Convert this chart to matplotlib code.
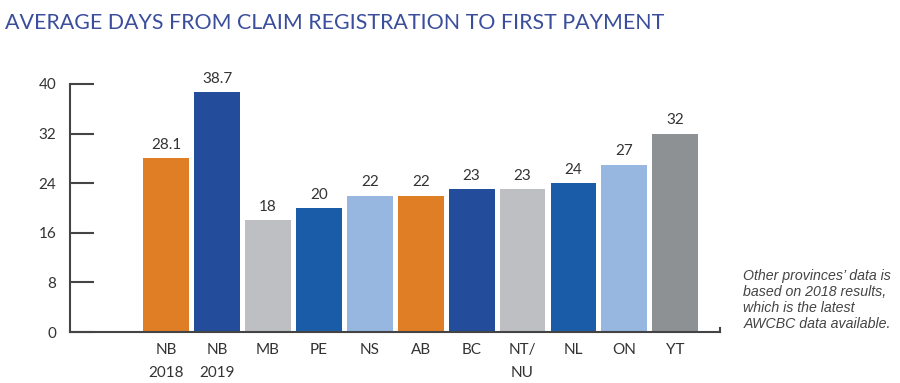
import matplotlib.pyplot as plt

# Average days from claim registration to first payment
labels = ["NB\n2018", "NB\n2019", "MB", "PE", "NS", "AB", "BC", "NT/\nNU", "NL", "ON", "YT"]
values = [28.1, 38.7, 18, 20, 22, 22, 23, 23, 24, 27, 32]
value_text = ["28.1", "38.7", "18", "20", "22", "22", "23", "23", "24", "27", "32"]
colors = ["#E07E26", "#234C9A", "#BDBFC2", "#1B5CA9", "#97B7E1", "#E07E26",
          "#234C9A", "#BDBFC2", "#1B5CA9", "#97B7E1", "#8E9194"]
yticks = [0, 8, 16, 24, 32, 40]

plt.rcParams['font.family'] = ['Lato', 'DejaVu Sans']

fig = plt.figure(figsize=(9, 3.83), dpi=100)
ax = fig.add_axes([0.0778, 0.133, 0.7222, 0.648])

x = list(range(len(values)))
ax.bar(x, values, width=0.9, color=colors)
for xi, v, t in zip(x, values, value_text):
    ax.text(xi, v + 1.0, t, ha='center', va='bottom', fontsize=11, color='#333333')

ax.set_xlim(-1.89, 10.88)
ax.set_ylim(0, 40)
ax.set_yticks(yticks)
ax.set_xticks(x)
ax.set_xticklabels(labels, fontsize=11, color='#333333', linespacing=1.8, va='top')
ax.tick_params(axis='x', length=0, pad=8)
ax.tick_params(axis='y', direction='in', length=17, width=1.5, color='#444444',
               labelsize=11, labelcolor='#333333', pad=10)

for s in ['top', 'right']:
    ax.spines[s].set_visible(False)
for s in ['left', 'bottom']:
    ax.spines[s].set_color('#444444')
    ax.spines[s].set_linewidth(1.5)
# small end tick on the x axis
ax.plot([10.88, 10.88], [0, 0.6], color='#444444', lw=1.5, clip_on=False)

fig.text(0.006, 0.965, "AVERAGE DAYS FROM CLAIM REGISTRATION TO FIRST PAYMENT",
         fontsize=15.4, color='#3A4E9C', va='top', ha='left')

fig.text(0.826, 0.217, "Other provinces\u2019 data is\nbased on 2018 results,\nwhich is the latest\nAWCBC data available.",
         fontsize=10.2, color='#444444', style='italic', family='Liberation Sans',
         va='center', ha='left', linespacing=1.2)

fig.savefig("out.png", dpi=100)
